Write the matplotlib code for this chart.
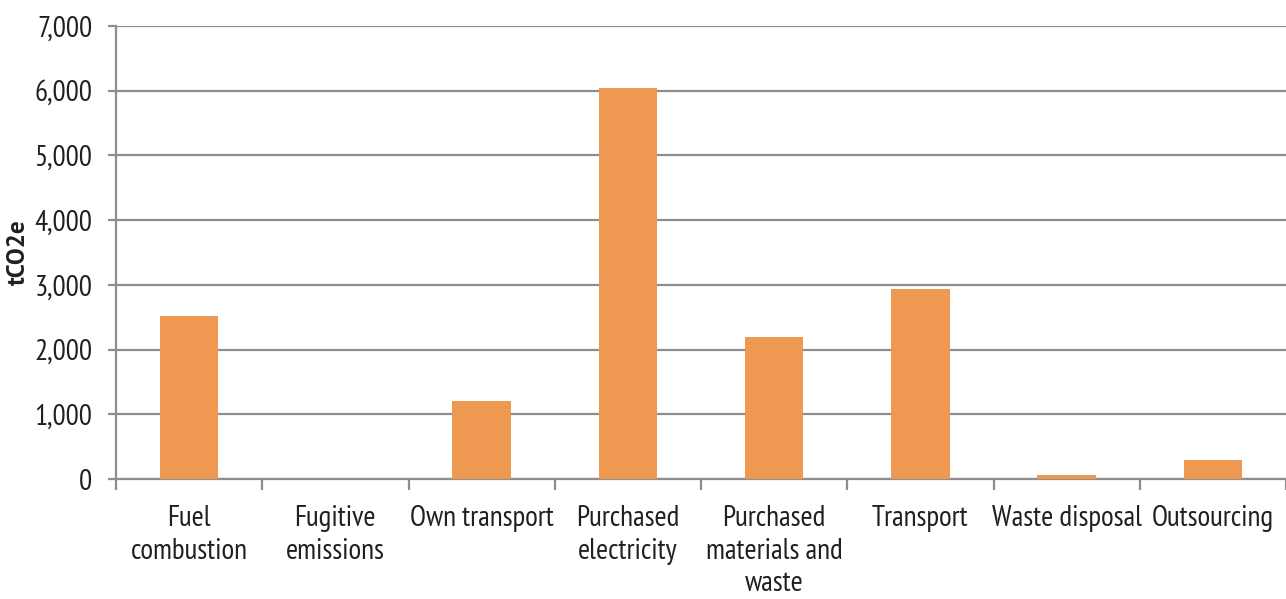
import matplotlib
matplotlib.use("Agg")
import matplotlib.pyplot as plt
from matplotlib.ticker import FuncFormatter, FixedLocator
import numpy as np

categories = ["Fuel\ncombustion", "Fugitive\nemissions", "Own transport",
              "Purchased\nelectricity", "Purchased\nmaterials and\nwaste",
              "Transport", "Waste disposal", "Outsourcing"]
emissions = [2520, 0, 1200, 6040, 2200, 2940, 60, 290]
y_ticks = [0, 1000, 2000, 3000, 4000, 5000, 6000, 7000]

plt.rcParams['font.family'] = ['PT Sans Narrow', 'DejaVu Sans']

BAR = '#ef9851'
GRID = '#8e8e90'
TXT = '#231f20'

fig = plt.figure(figsize=(12.86, 5.99), dpi=100)
ax = fig.add_axes([116 / 1286, 1 - 479 / 599, 1 - 116 / 1286, (479 - 26) / 599])

x = np.arange(len(categories))
ax.bar(x, emissions, width=0.4, color=BAR, zorder=3)

ax.set_xlim(-0.5, len(categories) - 0.5)
ax.set_ylim(0, 7000)
ax.set_yticks(y_ticks)
ax.yaxis.set_major_formatter(FuncFormatter(lambda v, p: f"{int(v):,}"))
ax.grid(axis='y', color=GRID, linewidth=1.6, zorder=0)

for s in ['top', 'right']:
    ax.spines[s].set_visible(False)
ax.spines['left'].set_color(GRID)
ax.spines['left'].set_linewidth(1.6)
ax.spines['bottom'].set_color(GRID)
ax.spines['bottom'].set_linewidth(1.6)

# category labels in the middle, tick marks on slot boundaries
ax.set_xticks(x)
ax.set_xticklabels(categories, fontsize=21, color=TXT, linespacing=1.25)
ax.tick_params(axis='x', length=0, pad=19)
ax.xaxis.set_minor_locator(FixedLocator(np.arange(len(categories) + 1) - 0.5))
ax.tick_params(axis='x', which='minor', length=8, width=1.6, color=GRID, direction='out')
ax.tick_params(axis='y', labelsize=21, labelcolor=TXT, length=6, width=1.6,
               color=GRID, pad=11)

ax.set_ylabel("tCO2e", fontsize=18, fontweight='bold', color=TXT, family=['PT Sans', 'DejaVu Sans'])
ax.yaxis.set_label_coords(-0.074, 0.5)

fig.savefig("out.png", dpi=100)
